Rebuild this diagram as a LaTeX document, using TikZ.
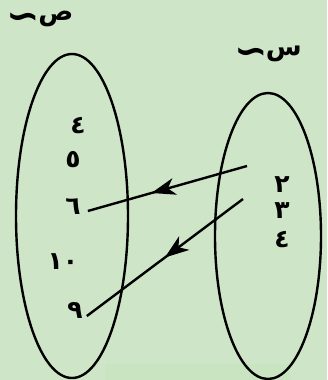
\documentclass[tikz,border=0pt]{standalone}
\usepackage{fontspec}
\usepackage{tikz}
\usetikzlibrary{arrows.meta,decorations.markings}
\newfontfamily\arabicfont[Script=Arabic]{DejaVu Sans}
\TeXXeTstate=1
\definecolor{bggreen}{RGB}{207,229,200}
\definecolor{smudge}{RGB}{201,228,192}

\begin{document}
\begin{tikzpicture}[x=1pt, y=-1pt,
  setline/.style={line width=2.4pt},
  num/.style={font=\arabicfont\bfseries\fontsize{25}{30}\selectfont, inner sep=1pt},
  setname/.style={font=\arabicfont\bfseries\fontsize{26}{30}\selectfont, inner sep=0pt},
  maparr/.style={line width=2.4pt, postaction={decorate},
    decoration={markings, mark=at position #1 with {\arrow{Stealth[length=24pt,width=17pt,inset=7pt]}}}}
]

\fill[bggreen] (0,0) rectangle (327,380);
\useasboundingbox (0,0) rectangle (327,380);
\fill[smudge] (105,364) rectangle (290,380);

% the two sets
\draw[setline] (72,216) ellipse [x radius=56pt, y radius=162pt];
\draw[setline] (268,236) ellipse [x radius=53pt, y radius=143pt];

\node[setname] (Y) at (40,20) {\raisebox{-9pt}{\fontsize{40}{40}\selectfont ∼}\kern-2pt\beginR ص\endR};
\node[setname] (X) at (268,55) {\raisebox{-9pt}{\fontsize{40}{40}\selectfont ∼}\kern-2pt\beginR س\endR};

% elements of y
\foreach \n/\t/\x/\y in {yf/٤/78/126, yv/٥/73/160, ys/٦/73/207, yt/١٠/63/262, yn/٩/75/310}
  \node[num] (\n) at (\x,\y) {\t};

% elements of x
\foreach \n/\t/\x/\y in {xb/٢/282/185, xc/٣/282/211, xd/٤/282/240}
  \node[num] (\n) at (\x,\y) {\t};

\coordinate (s1) at (247,166);
\coordinate (s2) at (243,199);
\coordinate (e1) at ([shift={(6,4)}]ys.east);
\coordinate (e2) at ([shift={(3,6)}]yn.east);

\draw[maparr=0.6] (s1) -- (e1);
\draw[maparr=0.5] (s2) -- (e2);

\end{tikzpicture}
\end{document}
